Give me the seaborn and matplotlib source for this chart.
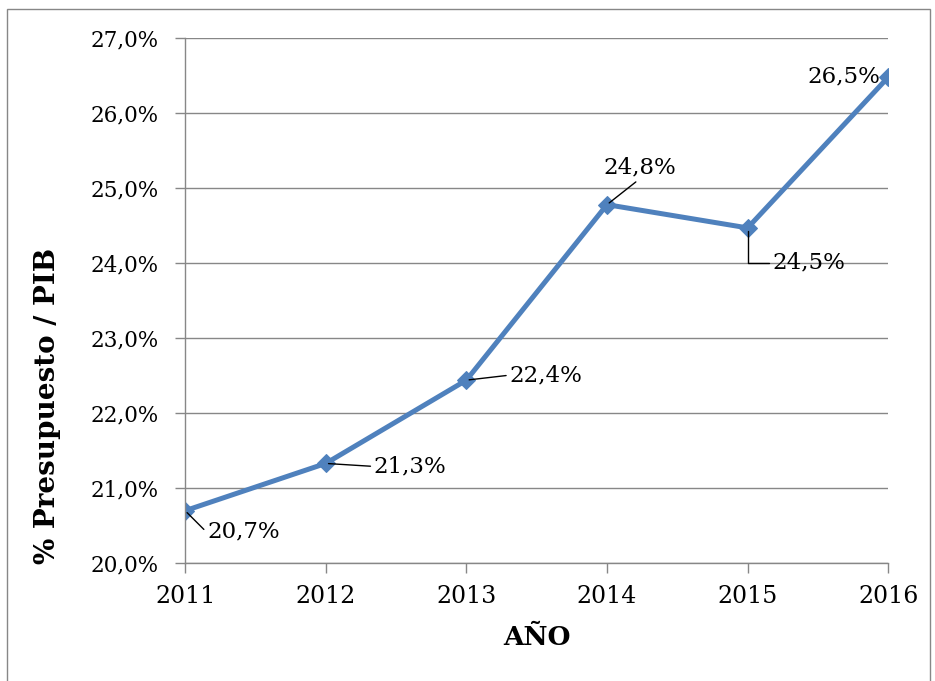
import matplotlib.pyplot as plt
import matplotlib.ticker as mticker
from matplotlib.patches import Rectangle
import pandas as pd
import seaborn as sns

years = [2011, 2012, 2013, 2014, 2015, 2016]
pct = [20.7, 21.33, 22.44, 24.78, 24.47, 26.48]
labels = ["20,7%", "21,3%", "22,4%", "24,8%", "24,5%", "26,5%"]

# label offsets (pixels) and leader style per point
offsets = [(22, -21), (48, -3), (43, 5), (33, 37), (25, -35), (-8, 1)]
styles = [
    dict(ha="left", rel=(0, 0.5), conn="angle,angleA=0,angleB=-45,rad=0"),
    dict(ha="left", rel=(0, 0.5), conn="arc3"),
    dict(ha="left", rel=(0, 0.5), conn="arc3"),
    dict(ha="center", rel=(0.5, 0), conn="arc3"),
    dict(ha="left", rel=(0, 0.5), conn="angle,angleA=0,angleB=90,rad=0"),
    dict(ha="right", rel=None, conn=None),
]

df = pd.DataFrame({"year": years, "pct": pct})

sns.set_style("white")
plt.rcParams["font.family"] = ["DejaVu Serif"]
plt.rcParams["text.color"] = "black"
plt.rcParams["axes.labelcolor"] = "black"

blue = "#4F81BD"
grey = "#878787"

fig = plt.figure(figsize=(9.35, 6.81), dpi=100)
ax = fig.add_axes([0.198, 0.173, 0.752, 0.771])

sns.lineplot(data=df, x="year", y="pct", ax=ax, color=blue, linewidth=3.6,
             marker="D", markersize=9, markeredgecolor=blue)

for x, y, lab, off, st in zip(years, pct, labels, offsets, styles):
    kw = {}
    if st["conn"] is not None:
        kw["arrowprops"] = dict(arrowstyle="-", color="black", lw=1,
                                connectionstyle=st["conn"], relpos=st["rel"],
                                shrinkA=0, shrinkB=2)
    ax.annotate(lab, (x, y), xytext=off, textcoords="offset pixels",
                ha=st["ha"], va="center", fontsize=16.5, **kw)

ax.set_xlim(2011, 2016)
ax.set_ylim(20, 27)
ax.set_xticks(years)
ax.yaxis.set_major_locator(mticker.MultipleLocator(1))
ax.yaxis.set_major_formatter(
    mticker.FuncFormatter(lambda v, p: f"{v:.1f}%".replace(".", ",")))

ax.grid(axis="y", color=grey, linewidth=1)
ax.set_axisbelow(True)
for s in ["top", "right"]:
    ax.spines[s].set_visible(False)
for s in ["left", "bottom"]:
    ax.spines[s].set_color(grey)
    ax.spines[s].set_linewidth(1)
ax.tick_params(axis="both", direction="out", length=7, width=1, color=grey,
               labelcolor="black", left=True, bottom=True)
ax.tick_params(axis="y", pad=12, labelsize=15.5)
ax.tick_params(axis="x", pad=9, labelsize=17)

ax.set_xlabel("AÑO", fontsize=19, fontweight="bold", labelpad=12)
ax.set_ylabel("% Presupuesto / PIB", fontsize=20, fontweight="bold")
ax.yaxis.set_label_coords(-0.176, 0.30)

fig.patches.append(Rectangle((0.0075, -0.01), 0.987, 0.997, transform=fig.transFigure,
                             fill=False, edgecolor=grey, linewidth=1))

fig.savefig("out.png", dpi=100)
